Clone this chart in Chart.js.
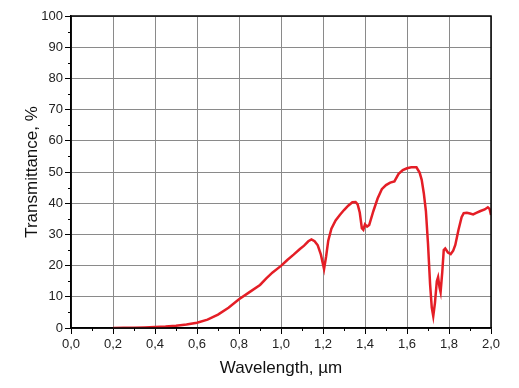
<!DOCTYPE html>
<html>
<head>
<meta charset="utf-8">
<script src="https://cdn.jsdelivr.net/npm/chart.js@4/dist/chart.umd.min.js"></script>
<style>
  html, body { margin: 0; padding: 0; background: #fff; }
  #wrap { width: 519px; height: 388px; }
</style>
</head>
<body>
<div id="wrap"><canvas id="specChart" width="519" height="388"></canvas></div>
<script>
// Transmission spectrum, values
const wavelength = [
  0.20, 0.25, 0.30, 0.35, 0.40, 0.45, 0.50, 0.55, 0.60, 0.65,
  0.70, 0.75, 0.80, 0.85, 0.90, 0.93, 0.96, 1.00, 1.03, 1.06,
  1.09, 1.11, 1.13, 1.145, 1.16, 1.175, 1.19, 1.205, 1.215, 1.225,
  1.24, 1.26, 1.28, 1.30, 1.32, 1.34, 1.355, 1.365, 1.375, 1.385,
  1.392, 1.40, 1.41, 1.42, 1.44, 1.46, 1.48, 1.50, 1.52, 1.54,
  1.56, 1.58, 1.60, 1.62, 1.645, 1.66, 1.67, 1.68, 1.69, 1.70,
  1.71, 1.718, 1.725, 1.733, 1.742, 1.748, 1.755, 1.76, 1.768, 1.775,
  1.782, 1.795, 1.808, 1.82, 1.83, 1.845, 1.86, 1.87, 1.885, 1.90,
  1.915, 1.93, 1.95, 1.97, 1.985, 1.993, 2.00
];
const transmittance = [
  0.0, 0.05, 0.1, 0.2, 0.35, 0.5, 0.75, 1.1, 1.7, 2.7,
  4.3, 6.5, 9.2, 11.5, 13.8, 15.9, 17.8, 19.9, 21.8, 23.5,
  25.3, 26.4, 27.8, 28.4, 27.8, 26.5, 23.5, 18.9, 23.0, 28.0,
  31.8, 34.5, 36.2, 37.8, 39.2, 40.3, 40.4, 39.6, 37.0, 32.0,
  31.5, 33.2, 32.5, 33.0, 37.5, 41.5, 44.5, 45.8, 46.6, 47.0,
  49.4, 50.6, 51.2, 51.5, 51.5, 49.8, 47.5, 43.2, 37.5, 27.0,
  14.0, 6.5, 3.8, 8.0, 15.0, 16.3, 13.0, 11.5, 18.0, 25.0,
  25.5, 24.2, 23.7, 24.8, 26.6, 31.4, 35.5, 36.8, 36.9, 36.7,
  36.4, 36.9, 37.5, 38.0, 38.7, 38.2, 36.2
];

const xMinorTicks = [0.1, 0.3, 0.5, 0.7, 0.9, 1.1, 1.3, 1.5, 1.7, 1.9];
const yMinorTicks = [5, 15, 25, 35, 45, 55, 65, 75, 85, 95];

const points = wavelength.map((w, i) => ({ x: w, y: transmittance[i] }));

// frame around plot + short minor ticks
const framePlugin = {
  id: 'frame',
  afterDraw(chart) {
    const { ctx, chartArea: a, scales } = chart;
    ctx.save();
    ctx.strokeStyle = '#000';
    ctx.lineWidth = 1;
    ctx.beginPath();
    xMinorTicks.forEach(v => {
      const px = Math.round(scales.x.getPixelForValue(v)) + 0.5;
      ctx.moveTo(px, a.bottom);
      ctx.lineTo(px, a.bottom + 3);
    });
    yMinorTicks.forEach(v => {
      const py = Math.round(scales.y.getPixelForValue(v)) + 0.5;
      ctx.moveTo(a.left - 3, py);
      ctx.lineTo(a.left, py);
    });
    ctx.stroke();
    ctx.lineWidth = 1.5;
    ctx.strokeRect(a.left, a.top, a.right - a.left, a.bottom - a.top);
    ctx.restore();
  }
};

const ctx = document.getElementById('specChart').getContext('2d');
const specChart = new Chart(ctx, {
  type: 'line',
  data: {
    datasets: [{
      label: 'Transmittance',
      data: points,
      borderColor: '#e41e26',
      borderWidth: 2.5,
      pointRadius: 0,
      fill: false,
      tension: 0
    }]
  },
  options: {
    responsive: false,
    animation: false,
    layout: { padding: { top: 16, right: 28, left: 0, bottom: 0 } },
    plugins: {
      legend: { display: false },
      tooltip: { enabled: false }
    },
    scales: {
      x: {
        type: 'linear',
        min: 0,
        max: 2,
        afterFit: s => { s.height = 60; },
        ticks: {
          stepSize: 0.2,
          padding: 3,
          color: '#222',
          font: { family: 'Liberation Sans', size: 13 },
          callback: v => v.toFixed(1).replace('.', ',')
        },
        grid: { color: '#8a8a8a', tickColor: '#000', tickLength: 6, lineWidth: 1 },
        border: { color: '#000', width: 1.5 },
        title: {
          display: true,
          text: 'Wavelength, µm',
          color: '#111',
          font: { family: 'Liberation Sans', size: 17 },
          padding: { top: 0, bottom: 9 }
        }
      },
      y: {
        min: 0,
        max: 100,
        afterFit: s => { s.width = 71; },
        ticks: {
          stepSize: 10,
          padding: 2,
          color: '#222',
          font: { family: 'Liberation Sans', size: 13 }
        },
        grid: { color: '#8a8a8a', tickColor: '#000', tickLength: 6, lineWidth: 1 },
        border: { color: '#000', width: 1.5 },
        title: {
          display: true,
          text: 'Transmittance, %',
          color: '#111',
          font: { family: 'Liberation Sans', size: 17 },
          padding: { top: 22, bottom: 0 }
        }
      }
    }
  },
  plugins: [framePlugin]
});
</script>
</body>
</html>
